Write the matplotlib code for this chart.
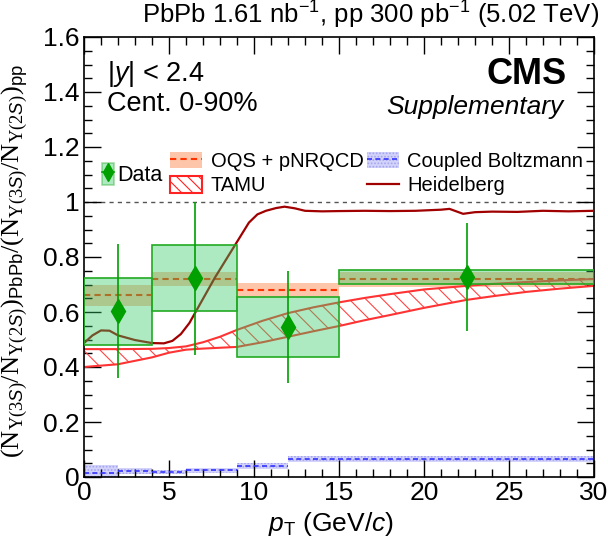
import numpy as np
import matplotlib
matplotlib.use("Agg")
import matplotlib.pyplot as plt
from matplotlib.patches import Rectangle
from matplotlib.lines import Line2D
from matplotlib.legend_handler import HandlerTuple
from matplotlib.ticker import MultipleLocator, FormatStrFormatter

plt.rcParams['font.family'] = ['Liberation Sans', 'DejaVu Sans']
plt.rcParams['mathtext.fontset'] = 'custom'
plt.rcParams['mathtext.rm'] = 'Liberation Serif'
plt.rcParams['mathtext.sf'] = 'Liberation Sans'
plt.rcParams['mathtext.it'] = 'Liberation Sans:italic'
plt.rcParams['mathtext.bf'] = 'Liberation Serif'
plt.rcParams['hatch.linewidth'] = 0.8

# data points (CMS)
bin_lo = [0, 4, 9, 15]
bin_hi = [4, 9, 15, 30]
pt_c = [2, 6.5, 12, 22.5]
ratio = [0.604, 0.724, 0.545, 0.727]
stat_hi = [0.847, 1.0, 0.749, 0.924]
stat_lo = [0.36, 0.444, 0.343, 0.531]
syst_hi = [0.724, 0.844, 0.655, 0.753]
syst_lo = [0.48, 0.604, 0.436, 0.702]

# OQS + pNRQCD (per bin)
oqs_c = [0.662, 0.72, 0.68, 0.72]
oqs_hi = [0.698, 0.745, 0.705, 0.745]
oqs_lo = [0.622, 0.695, 0.655, 0.69]

# Coupled Boltzmann (per bin)
cb_lo_edge = [0, 2, 4, 6, 9, 12]
cb_hi_edge = [2, 4, 6, 9, 12, 30]
cb_c = [0.016, 0.022, 0.017, 0.025, 0.041, 0.065]
cb_up = [0.042, 0.032, 0.025, 0.033, 0.052, 0.077]
cb_dn = [-0.01, 0.01, 0.01, 0.016, 0.029, 0.053]

# TAMU band
tamu_x = [0, 2, 4, 5, 6, 7, 8, 9, 10.5, 12, 13.5, 15, 16.5, 18, 20, 22.5, 24, 26, 28, 30]
tamu_hi = [0.465, 0.465, 0.466, 0.469, 0.475, 0.49, 0.51, 0.535, 0.568, 0.596, 0.617, 0.635, 0.651, 0.665, 0.682, 0.695, 0.702, 0.709, 0.715, 0.72]
tamu_lo = [0.40, 0.41, 0.435, 0.452, 0.463, 0.467, 0.47, 0.473, 0.49, 0.51, 0.53, 0.549, 0.57, 0.589, 0.615, 0.644, 0.657, 0.673, 0.685, 0.695]

# Heidelberg
hd_x = [0, 0.5, 1.0, 1.5, 2, 3, 4, 4.7, 5.2, 5.7, 6.2, 6.7, 7.2, 7.7, 8.2, 8.7, 9.2, 9.7,
        10.2, 10.7, 11.3, 11.8, 12.4, 13, 14, 15, 16.5, 18, 19.5, 21, 21.5, 22.3, 23, 24,
        25.5, 27, 28.5, 30]
hd_y = [0.487, 0.515, 0.533, 0.532, 0.515, 0.498, 0.487, 0.486, 0.495, 0.52, 0.56, 0.615,
        0.67, 0.725, 0.775, 0.825, 0.875, 0.925, 0.955, 0.968, 0.978, 0.983, 0.977, 0.968,
        0.966, 0.967, 0.968, 0.967, 0.968, 0.972, 0.975, 0.957, 0.963, 0.965, 0.964,
        0.968, 0.966, 0.968]

green_fill = '#33cc66'
green_edge = '#22aa22'
green_pt = '#00a000'
oqs_band = '#fdc6aa'
oqs_line = '#ff3300'
cb_band = '#d2d2fa'
cb_dots = '#a4a4f0'
cb_line = '#3333ff'
hd_col = '#a00000'

fig = plt.figure(figsize=(6.08, 5.42), dpi=100)
ax = fig.add_axes([84/608, 65/542, 510/608, 440/542])

# OQS
for i in range(4):
    ax.fill_between([bin_lo[i], bin_hi[i]], oqs_lo[i], oqs_hi[i], color=oqs_band, lw=0, zorder=1)
    ax.plot([bin_lo[i], bin_hi[i]], [oqs_c[i]] * 2, color=oqs_line, ls=(0, (3, 2)), lw=1.5, zorder=2)

# Coupled Boltzmann
for i in range(len(cb_c)):
    ax.fill_between([cb_lo_edge[i], cb_hi_edge[i]], cb_dn[i], cb_up[i], facecolor=cb_band,
                    edgecolor=cb_dots, hatch='.....', lw=0, zorder=1)
    ax.plot([cb_lo_edge[i], cb_hi_edge[i]], [cb_c[i]] * 2, color=cb_line, ls=(0, (3, 2)), lw=1.2, zorder=2)

# TAMU
ax.fill_between(tamu_x, tamu_lo, tamu_hi, facecolor='none', edgecolor='#ff4444',
                hatch='\\\\', lw=0, zorder=2)
ax.plot(tamu_x, tamu_hi, color='#ff3333', lw=1.5, zorder=2)
ax.plot(tamu_x, tamu_lo, color='#ff3333', lw=1.5, zorder=2)

# Heidelberg
ax.plot(hd_x, hd_y, color=hd_col, lw=1.6, zorder=3)

# unity line
ax.axhline(1.0, color='#555555', ls=(0, (3, 3)), lw=1.0, zorder=1)

# data syst boxes
for i in range(4):
    ax.add_patch(Rectangle((bin_lo[i], syst_lo[i]), bin_hi[i] - bin_lo[i], syst_hi[i] - syst_lo[i],
                           facecolor=green_fill, alpha=0.4, lw=0, zorder=4))
    ax.add_patch(Rectangle((bin_lo[i], syst_lo[i]), bin_hi[i] - bin_lo[i], syst_hi[i] - syst_lo[i],
                           facecolor='none', edgecolor=green_edge, lw=1.2, zorder=4))
yerr = [np.array(ratio) - np.array(stat_lo), np.array(stat_hi) - np.array(ratio)]
ax.errorbar(pt_c, ratio, yerr=yerr, fmt='d', color=green_pt, ms=12, lw=1.2, capsize=0, zorder=5)

ax.set_xlim(0, 30)
ax.set_ylim(0, 1.6)
ax.xaxis.set_major_locator(MultipleLocator(5))
ax.xaxis.set_minor_locator(MultipleLocator(1))
ax.yaxis.set_major_locator(MultipleLocator(0.2))
ax.yaxis.set_minor_locator(MultipleLocator(0.05))
ax.yaxis.set_major_formatter(FormatStrFormatter('%g'))
ax.tick_params(which='both', direction='in', top=True, right=True, labelsize=19, pad=3)
ax.tick_params(which='major', length=12, width=1)
ax.tick_params(which='minor', length=6, width=1)
for s in ax.spines.values():
    s.set_linewidth(1.2)

ax.set_xlabel(r'$p_{\mathsf{T}}$ (GeV/$c$)', fontsize=19, labelpad=0)
ax.xaxis.set_label_coords(0.485, -0.075)
ax.set_ylabel(r'$(\mathrm{N}_{\Upsilon(3S)}/\mathrm{N}_{\Upsilon(2S)})_{\mathsf{PbPb}}\mathbf{/}(\mathrm{N}_{\Upsilon(3S)}/\mathrm{N}_{\Upsilon(2S)})_{\mathsf{pp}}$',
              fontsize=19)
ax.yaxis.set_label_coords(-0.105, 0.49)

fig.text(599/608, 1 - 15/542, r'PbPb 1.61 nb$^{\mathsf{-1}}$, pp 300 pb$^{\mathsf{-1}}$ (5.02 TeV)',
         ha='right', va='center', fontsize=18.5)
ax.text(0.947, 0.915, 'CMS', transform=ax.transAxes, ha='right', va='center',
        fontsize=26, fontweight='bold')
ax.text(0.94, 0.84, 'Supplementary', transform=ax.transAxes, ha='right', va='center',
        fontsize=19, style='italic')
ax.text(0.045, 0.915, r'|$y$| < 2.4', transform=ax.transAxes, ha='left', va='center', fontsize=19.5)
ax.text(0.045, 0.847, 'Cent. 0-90%', transform=ax.transAxes, ha='left', va='center', fontsize=19.5)

# legends
hmap = {tuple: HandlerTuple(ndivide=1, pad=0)}
h_data = (Rectangle((0, 0), 1, 1, facecolor=green_fill, alpha=0.4, edgecolor=green_edge, lw=1.2),
          Line2D([], [], color=green_pt, marker='d', ms=9, lw=1.2))
leg1 = ax.legend([h_data], ['Data'], loc='center left', bbox_to_anchor=(0.036, 0.687),
                 frameon=False, fontsize=15.5, handlelength=0.55, handleheight=1.15,
                 handletextpad=0.15, borderpad=0, borderaxespad=0, handler_map=hmap)
ax.add_artist(leg1)

h_oqs = (Rectangle((0, 0), 1, 1, facecolor=oqs_band, lw=0),
         Line2D([], [], color=oqs_line, ls=(0, (3, 2)), lw=1.5))
h_tamu = Rectangle((0, 0), 1, 1, facecolor='white', edgecolor='#ff2222', hatch='\\\\\\', lw=1.5)
h_cb = (Rectangle((0, 0), 1, 1, facecolor=cb_band, edgecolor=cb_dots, hatch='.....', lw=0),
        Line2D([], [], color=cb_line, ls=(0, (3, 2)), lw=1.2))
h_hd = Line2D([], [], color=hd_col, lw=1.6)
ax.legend([h_oqs, h_tamu, h_cb, h_hd], ['OQS + pNRQCD', 'TAMU', 'Coupled Boltzmann', 'Heidelberg'],
          ncol=2, loc='center left', bbox_to_anchor=(0.169, 0.69), frameon=False, fontsize=14.5,
          handlelength=1.6, handleheight=0.9, handletextpad=0.42, columnspacing=0.15,
          labelspacing=0.25, borderpad=0, borderaxespad=0, handler_map=hmap)

fig.savefig('out.png', dpi=100)
